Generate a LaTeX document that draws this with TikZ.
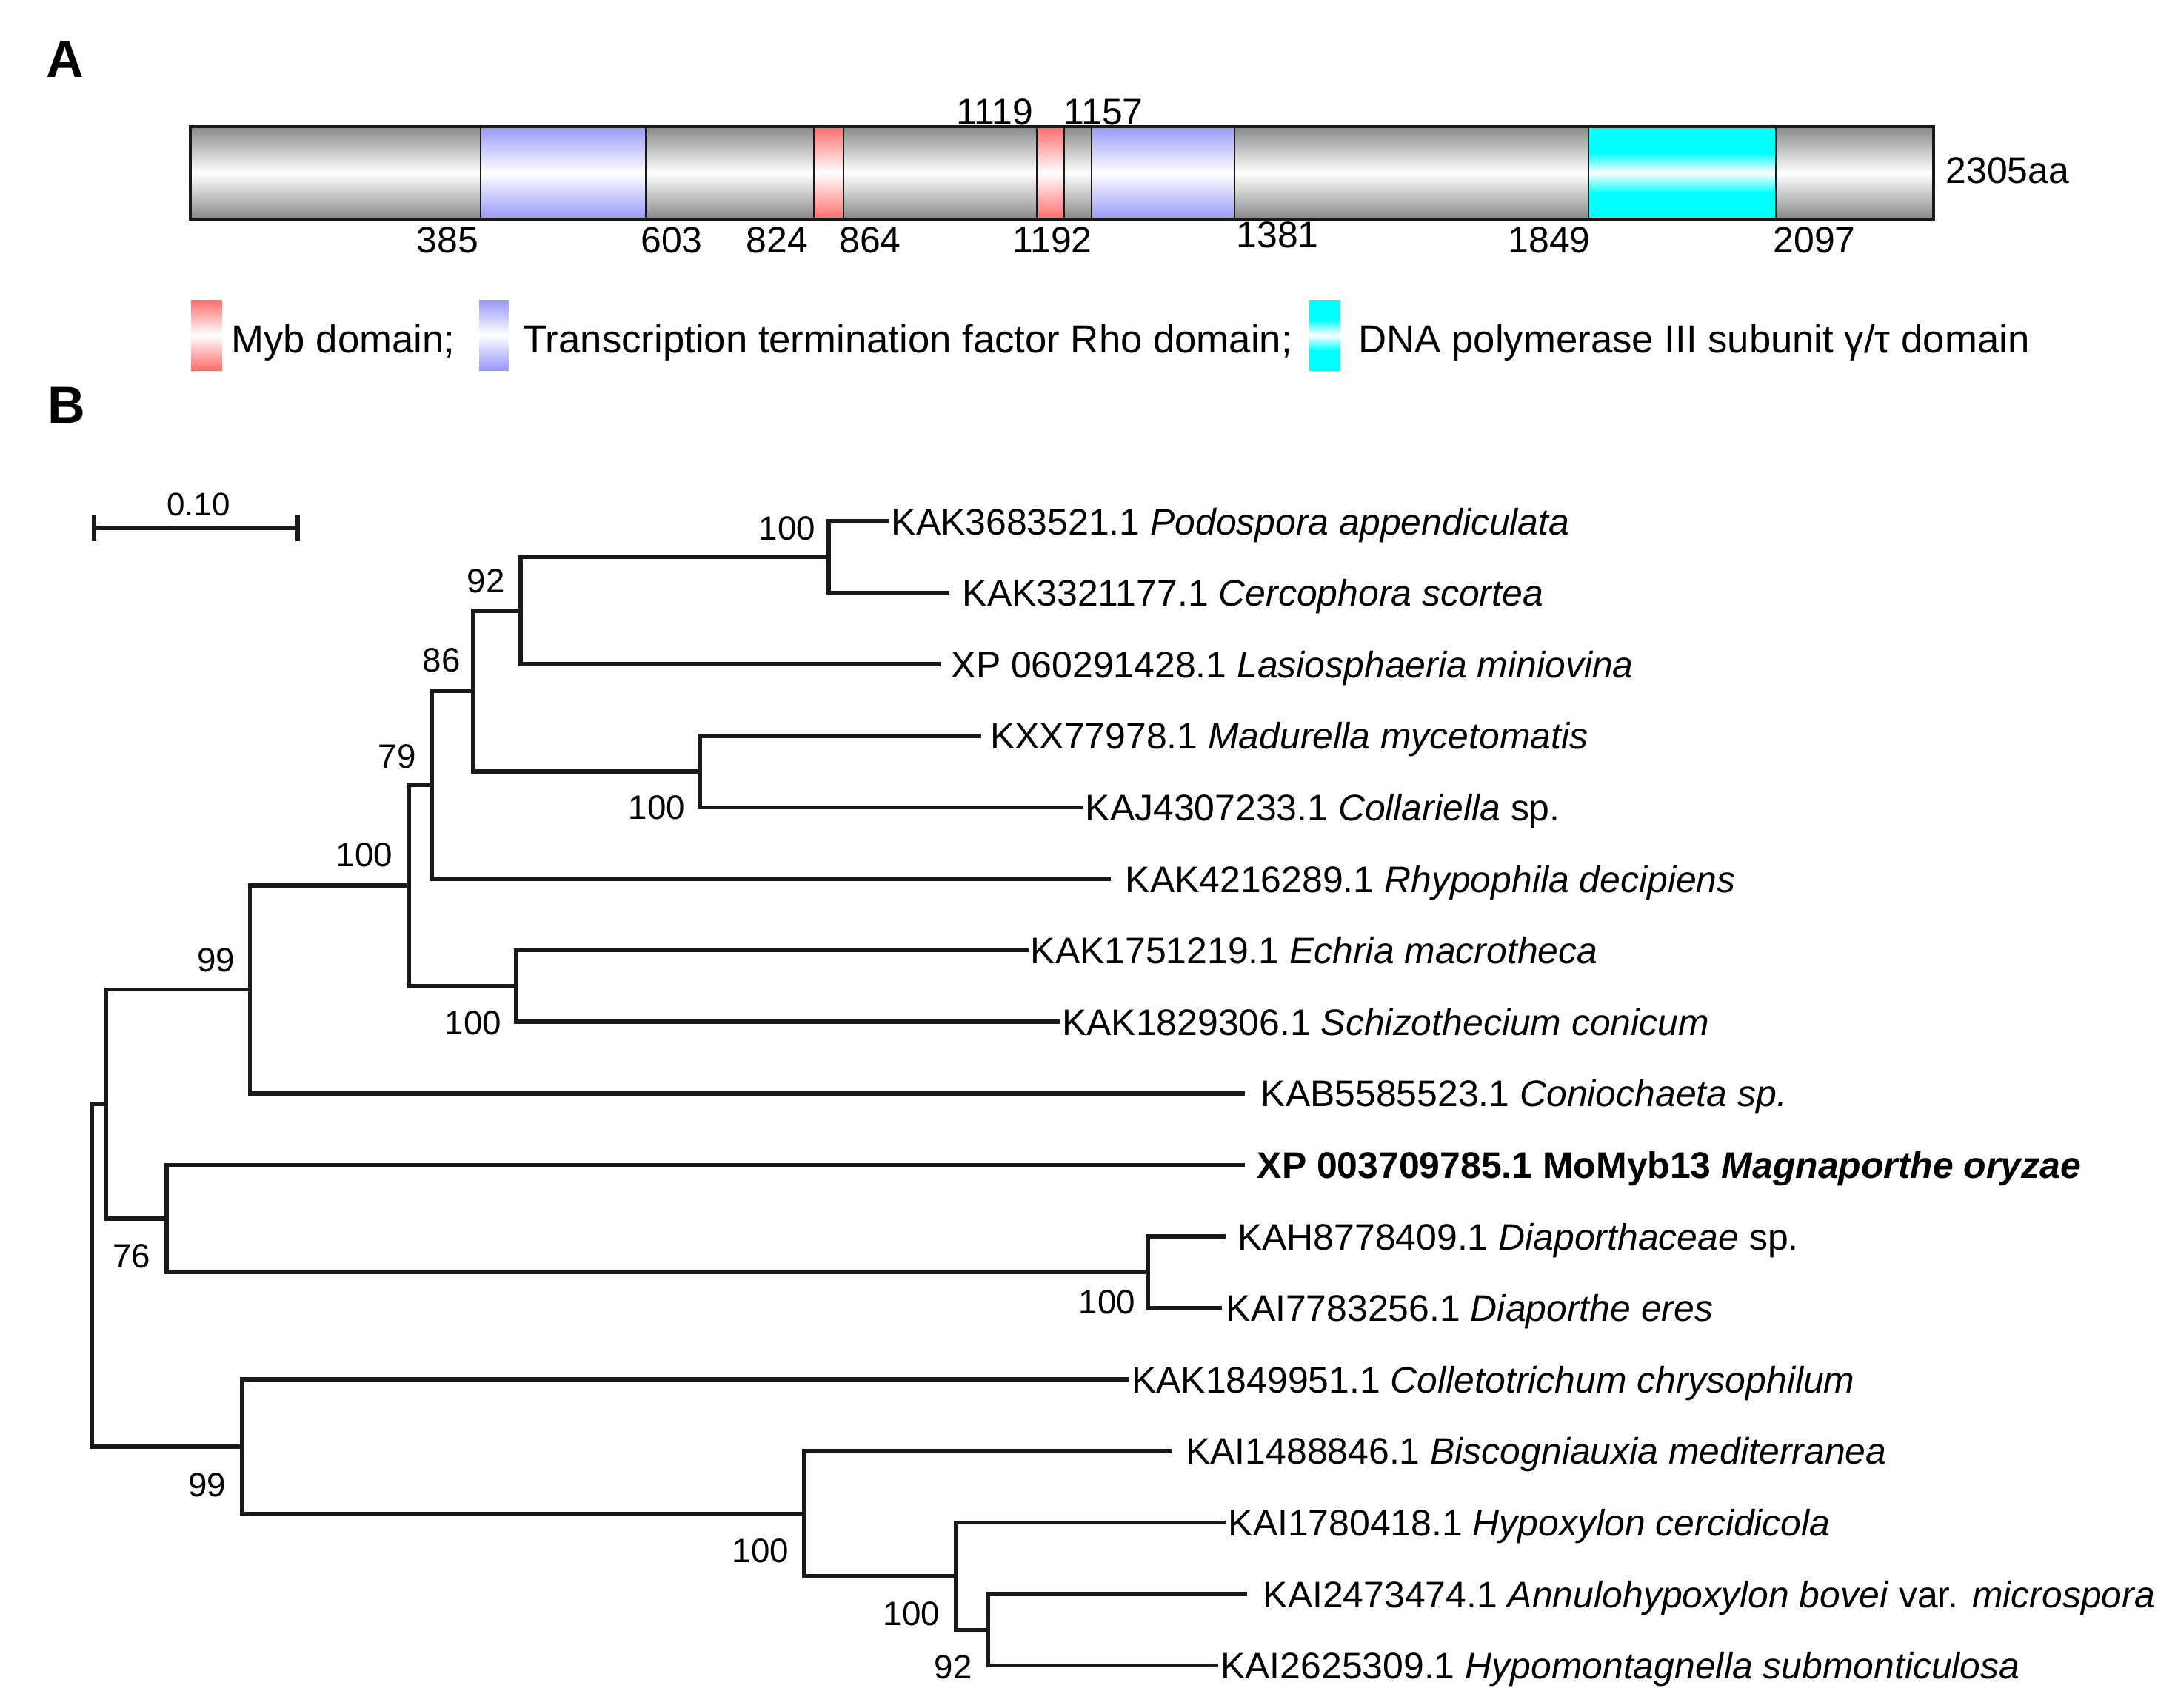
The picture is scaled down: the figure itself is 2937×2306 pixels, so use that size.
\documentclass[tikz,border=0pt]{standalone}
\usepackage{fontspec}
\setmainfont{Liberation Sans}
\setsansfont{Liberation Sans}
\definecolor{barGray}{RGB}{136,136,136}
\definecolor{barBlue}{RGB}{152,152,248}
\definecolor{barRed}{RGB}{255,108,108}
\definecolor{barCyan}{RGB}{0,255,255}
\pgfdeclareverticalshading{grayshade}{100bp}{color(0bp)=(barGray); color(25bp)=(barGray); color(50bp)=(white); color(75bp)=(barGray); color(100bp)=(barGray)}
\pgfdeclareverticalshading{blueshade}{100bp}{color(0bp)=(barBlue); color(25bp)=(barBlue); color(50bp)=(white); color(75bp)=(barBlue); color(100bp)=(barBlue)}
\pgfdeclareverticalshading{redshade}{100bp}{color(0bp)=(barRed); color(25bp)=(barRed); color(50bp)=(white); color(75bp)=(barRed); color(100bp)=(barRed)}
\pgfdeclareverticalshading{cyanshade}{100bp}{color(0bp)=(barCyan); color(39bp)=(barCyan); color(50bp)=(white); color(61bp)=(barCyan); color(100bp)=(barCyan)}
\begin{document}
\begin{tikzpicture}[x=0.1mm,y=-0.1mm,
  tree/.style={line width=0.55mm, black!90},
  leaf/.style={anchor=west, inner sep=0pt, font=\fontsize{14.2pt}{17pt}\selectfont, text height=3.6mm, text depth=0pt},
  boot/.style={anchor=center, inner sep=0pt, font=\fontsize{13pt}{15pt}\selectfont, text height=3.3mm, text depth=0pt},
  posl/.style={anchor=center, inner sep=0pt, font=\fontsize{14.2pt}{17pt}\selectfont, text height=3.6mm, text depth=0pt},
  legtext/.style={anchor=west, inner sep=0pt, font=\fontsize{15pt}{18pt}\selectfont, text height=3.8mm, text depth=0pt},
  panel/.style={anchor=center, inner sep=0pt, font=\fontsize{20pt}{24pt}\selectfont\bfseries, text height=5.1mm, text depth=0pt}]
\useasboundingbox (0,0) rectangle (2937,2306);
\fill[white] (0,0) rectangle (2937,2306);

% ---------- Panel A ----------
\node[panel] (pA) at (88,79) {A};
\foreach \a/\b/\s in {256.5/649/grayshade, 649/872/blueshade, 872/1099/grayshade, 1099/1139/redshade,
  1139/1400/grayshade, 1400/1437/redshade, 1437/1474/grayshade, 1474/1667/blueshade,
  1667/2145/grayshade, 2145/2398/cyanshade, 2398/2610.5/grayshade}
  \shade[shading=\s] (\a,171) rectangle (\b,296);
\foreach \x in {649,872,1099,1139,1400,1437,1474,1667,2145,2398}
  \draw[line width=0.25mm, black!90] (\x,171) -- (\x,296);
\draw[line width=0.4mm, black!90] (256.5,171) rectangle (2610.5,296);

\node[posl] (p385) at (604.5,323) {385};
\node[posl] (p603) at (907,323) {603};
\node[posl] (p824) at (1049.5,323) {824};
\node[posl] (p864) at (1175,323) {864};
\node[posl] (p1192) at (1421,323) {1192};
\node[posl] (p1381) at (1725,316) {1381};
\node[posl] (p1849) at (2092,323) {1849};
\node[posl] (p2097) at (2450,323) {2097};
\node[posl] (p1119) at (1343,150) {1119};
\node[posl] (p1157) at (1490,150) {1157};
\node[posl, anchor=west] (plen) at (2627,229) {2305aa};

% legend
\shade[shading=redshade] (258,405) rectangle (300,500);
\node[legtext] (lg1) at (312,457) {Myb domain;};
\shade[shading=blueshade] (647,405) rectangle (687,500);
\node[legtext] (lg2) at (706,457) {Transcription termination factor Rho domain;};
\shade[shading=cyanshade] (1768.5,405) rectangle (1810,500);
\node[legtext] (lg3) at (1834,457) {DNA polymerase III subunit γ/τ domain};

% ---------- Panel B ----------
\node[panel] (pB) at (90,546) {B};

% scale bar
\coordinate (sb1) at (127,713);
\coordinate (sb2) at (402,713);
\draw[tree] (sb1) -- (sb2);
\draw[tree] (sb1) ++(0,-17) -- ++(0,35);
\draw[tree] (sb2) ++(0,-17) -- ++(0,35);
\node[boot, font=\fontsize{12.5pt}{15pt}\selectfont] (sbl) at (268,680) {0.10};

% leaf tips
\coordinate (t1) at (1200,704);
\coordinate (t2) at (1282,800.6);
\coordinate (t3) at (1269.5,897.2);
\coordinate (t4) at (1325,993.8);
\coordinate (t5) at (1462,1090.4);
\coordinate (t6) at (1500,1187);
\coordinate (t7) at (1389,1283.6);
\coordinate (t8) at (1430.5,1380.2);
\coordinate (t9) at (1681,1476.8);
\coordinate (t10) at (1681,1573.4);
\coordinate (t11) at (1655,1670);
\coordinate (t12) at (1650,1766.6);
\coordinate (t13) at (1524,1863.2);
\coordinate (t14) at (1582,1959.8);
\coordinate (t15) at (1655,2056.4);
\coordinate (t16) at (1684,2153);
\coordinate (t17) at (1644.5,2249.6);

% leaf labels
\node[leaf] (l1) at (1203,704) {KAK3683521.1 \textit{Podospora appendiculata}};
\node[leaf] (l2) at (1299,800.6) {KAK3321177.1 \textit{Cercophora scortea}};
\node[leaf] (l3) at (1284,897.2) {XP 060291428.1 \textit{Lasiosphaeria miniovina}};
\node[leaf] (l4) at (1336.5,993.8) {KXX77978.1 \textit{Madurella mycetomatis}};
\node[leaf] (l5) at (1465,1090.4) {KAJ4307233.1 \textit{Collariella} sp.};
\node[leaf] (l6) at (1519,1187) {KAK4216289.1 \textit{Rhypophila decipiens}};
\node[leaf] (l7) at (1391,1283.6) {KAK1751219.1 \textit{Echria macrotheca}};
\node[leaf] (l8) at (1433.6,1380.2) {KAK1829306.1 \textit{Schizothecium conicum}};
\node[leaf] (l9) at (1702,1476.8) {KAB5585523.1 \textit{Coniochaeta sp.}};
\node[leaf] (l10) at (1697,1573.4) {\textbf{XP 003709785.1 MoMyb13 \textit{Magnaporthe oryzae}}};
\node[leaf] (l11) at (1670.5,1670) {KAH8778409.1 \textit{Diaporthaceae} sp.};
\node[leaf] (l12) at (1655,1766.6) {KAI7783256.1 \textit{Diaporthe eres}};
\node[leaf] (l13) at (1527.5,1863.2) {KAK1849951.1 \textit{Colletotrichum chrysophilum}};
\node[leaf] (l14) at (1600.6,1959.8) {KAI1488846.1 \textit{Biscogniauxia mediterranea}};
\node[leaf] (l15) at (1658,2056.4) {KAI1780418.1 \textit{Hypoxylon cercidicola}};
\node[leaf] (l16) at (1705,2153) {KAI2473474.1 \textit{Annulohypoxylon bovei} var. \textit{microspora}};
\node[leaf] (l17) at (1647.6,2249.6) {KAI2625309.1 \textit{Hypomontagnella submonticulosa}};

% internal nodes
\coordinate (nI) at (1119,752.3);
\coordinate (nH) at (703,824.75);
\coordinate (nF) at (945,1042.1);
\coordinate (nE) at (639,933.4);
\coordinate (nD) at (583.6,1060.2);
\coordinate (nG) at (696.5,1331.9);
\coordinate (nC) at (552,1196);
\coordinate (nB) at (337.7,1336.4);
\coordinate (nK) at (1550,1718.3);
\coordinate (nJ) at (225,1645.85);
\coordinate (nA) at (143.5,1491.1);
\coordinate (nO) at (1334.5,2201.3);
\coordinate (nN) at (1290.5,2128.85);
\coordinate (nM) at (1086,2044.3);
\coordinate (nL) at (327,1953.75);
\coordinate (nR) at (124,1722.4);

% branches
\draw[tree] (t1) -| (nI) |- (t2);
\draw[tree] (nI) -| (nH) |- (t3);
\draw[tree] (t4) -| (nF) |- (t5);
\draw[tree] (nH) -| (nE) |- (nF);
\draw[tree] (nE) -| (nD) |- (t6);
\draw[tree] (t7) -| (nG) |- (t8);
\draw[tree] (nD) -| (nC) |- (nG);
\draw[tree] (nC) -| (nB) |- (t9);
\draw[tree] (t11) -| (nK) |- (t12);
\draw[tree] (t10) -| (nJ) |- (nK);
\draw[tree] (nB) -| (nA) |- (nJ);
\draw[tree] (t16) -| (nO) |- (t17);
\draw[tree] (t15) -| (nN) |- (nO);
\draw[tree] (t14) -| (nM) |- (nN);
\draw[tree] (t13) -| (nL) |- (nM);
\draw[tree] (nA) -| (nR) |- (nL);

% bootstrap values
\node[boot] (bI) at (1063,713) {100};
\node[boot] (bH) at (656,784) {92};
\node[boot] (bE) at (596,891) {86};
\node[boot] (bD) at (536,1021) {79};
\node[boot] (bF) at (887,1090) {100};
\node[boot] (bC) at (492,1154) {100};
\node[boot] (bB) at (292,1296) {99};
\node[boot] (bG) at (639,1381) {100};
\node[boot] (bJ) at (178,1696) {76};
\node[boot] (bK) at (1495,1758) {100};
\node[boot] (bL) at (280,2005) {99};
\node[boot] (bM) at (1027,2094) {100};
\node[boot] (bN) at (1231,2179) {100};
\node[boot] (bO) at (1287,2251) {92};
\end{tikzpicture}
\end{document}
